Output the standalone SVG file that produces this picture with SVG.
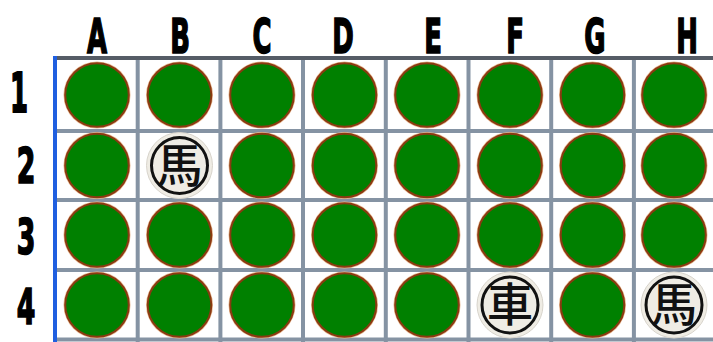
<svg xmlns="http://www.w3.org/2000/svg" width="713" height="342" viewBox="0 0 713 342">
<defs>
<style>
.lbl{font-family:"DejaVu Sans Condensed","Liberation Sans Narrow","Liberation Sans",sans-serif;font-weight:bold;font-size:48px;fill:#000;stroke:#000;stroke-width:1.6;text-anchor:middle}
.grid{stroke:#8593a3;stroke-width:4;fill:none}
.halo{fill:#e8b890}
.stone{fill:#008000;stroke:#8a3a12;stroke-width:2}
.pbg{fill:#efece4;stroke:#d8d4cc;stroke-width:1}
.ring{fill:none;stroke:#111;stroke-width:3}
.ch{font-family:"Noto Sans CJK SC","Noto Sans CJK TC",sans-serif;font-size:46px;fill:#111;text-anchor:middle;font-weight:500}
</style>
<g id="s"><circle class="halo" r="33.5"/><circle class="stone" r="31.8"/></g>
</defs>
<rect width="713" height="342" fill="#fff"/>
<g id="labels">
<g transform="translate(97,53) scale(0.6,1)"><text class="lbl">A</text></g>
<g transform="translate(180,53) scale(0.6,1)"><text class="lbl">B</text></g>
<g transform="translate(262,53) scale(0.6,1)"><text class="lbl">C</text></g>
<g transform="translate(343,53) scale(0.6,1)"><text class="lbl">D</text></g>
<g transform="translate(433,53) scale(0.6,1)"><text class="lbl">E</text></g>
<g transform="translate(515,53) scale(0.6,1)"><text class="lbl">F</text></g>
<g transform="translate(595,53) scale(0.6,1)"><text class="lbl">G</text></g>
<g transform="translate(687,53) scale(0.6,1)"><text class="lbl">H</text></g>
<g transform="translate(19,112) scale(0.6,1.15)"><text class="lbl">1</text></g>
<g transform="translate(26,183) scale(0.62,1.05)"><text class="lbl">2</text></g>
<g transform="translate(26,254) scale(0.62,1.05)"><text class="lbl">3</text></g>
<g transform="translate(26,324) scale(0.62,1.05)"><text class="lbl">4</text></g>
</g>
<g id="grid">
<path class="grid" d="M137.7 60V342M220.4 60V342M303 60V342M385.8 60V342M468.5 60V342M551.2 60V342M633.9 60V342M55 131H713M55 200H713M55 270H713M55 339.5H713"/>
<rect x="55" y="56" width="658" height="4" fill="#555c66"/>
<rect x="53" y="56" width="4" height="286" fill="#1f5fe0"/>
</g>
<g id="stones">
<use href="#s" x="97" y="95"/><use href="#s" x="179.5" y="95"/><use href="#s" x="262" y="95"/><use href="#s" x="344.5" y="95"/><use href="#s" x="427" y="95"/><use href="#s" x="510" y="95"/><use href="#s" x="592.5" y="95"/><use href="#s" x="674" y="95"/>
<use href="#s" x="97" y="165.5"/><use href="#s" x="262" y="165.5"/><use href="#s" x="344.5" y="165.5"/><use href="#s" x="427" y="165.5"/><use href="#s" x="510" y="165.5"/><use href="#s" x="592.5" y="165.5"/><use href="#s" x="674" y="165.5"/>
<use href="#s" x="97" y="235"/><use href="#s" x="179.5" y="235"/><use href="#s" x="262" y="235"/><use href="#s" x="344.5" y="235"/><use href="#s" x="427" y="235"/><use href="#s" x="510" y="235"/><use href="#s" x="592.5" y="235"/><use href="#s" x="674" y="235"/>
<use href="#s" x="97" y="305"/><use href="#s" x="179.5" y="305"/><use href="#s" x="262" y="305"/><use href="#s" x="344.5" y="305"/><use href="#s" x="427" y="305"/><use href="#s" x="592.5" y="305"/>
</g>
<g id="piece-b2" transform="translate(179.5,165.5)">
<circle class="pbg" r="33"/><circle class="ring" r="28"/><text class="ch" y="16">馬</text>
</g>
<g id="piece-f4" transform="translate(510,305)">
<circle class="pbg" r="33"/><circle class="ring" r="28"/><text class="ch" y="16">車</text>
</g>
<g id="piece-h4" transform="translate(674,305)">
<circle class="pbg" r="33"/><circle class="ring" r="28"/><text class="ch" y="16">馬</text>
</g>
</svg>
